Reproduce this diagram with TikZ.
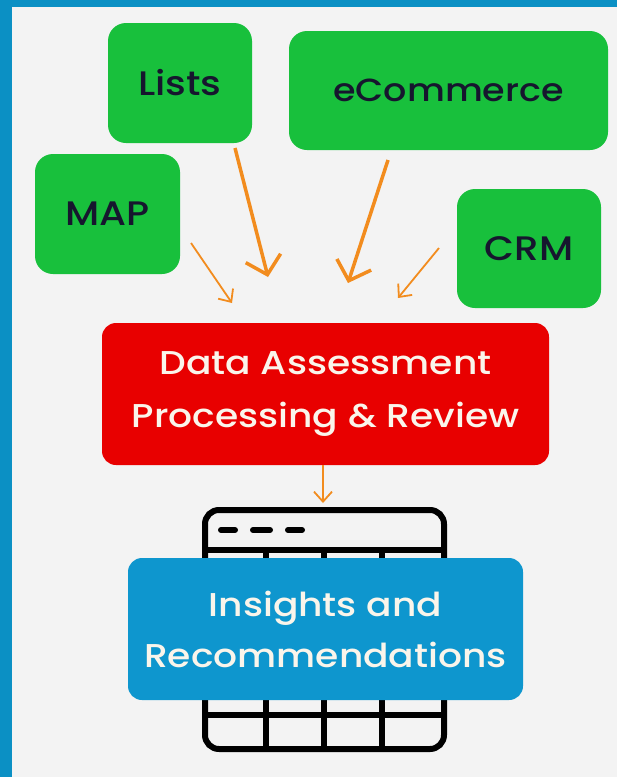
\documentclass[tikz,border=0pt]{standalone}
\usepackage{fontspec}
\newfontfamily\popm{Poppins Medium}[FakeStretch=1.14]
\usetikzlibrary{arrows.meta}
\definecolor{frameblue}{RGB}{11,144,196}
\definecolor{bggray}{RGB}{243,243,243}
\definecolor{boxgreen}{RGB}{24,192,60}
\definecolor{boxred}{RGB}{232,0,0}
\definecolor{boxblue}{RGB}{14,150,206}
\definecolor{navy}{RGB}{22,22,46}
\definecolor{cream}{RGB}{250,245,235}
\definecolor{arroworange}{RGB}{242,140,30}
\tikzset{
  srcbox/.style={fill=boxgreen, rounded corners=18pt, inner sep=0pt, text=navy,
    font=\popm\fontsize{34}{40}\selectfont},
  bigbox/.style={rounded corners=14pt, inner sep=0pt, text=cream, align=center},
  thickarrow/.style={draw=arroworange, line width=3.5pt,
    -{Straight Barb[length=17pt,width=36pt,line width=3.5pt]}},
  thinarrow/.style={draw=arroworange, line width=1.8pt,
    -{Straight Barb[length=10pt,width=18pt,line width=1.8pt]}},
  iconline/.style={draw=black, line width=6pt}
}
\begin{document}
\begin{tikzpicture}[x=1pt,y=-1pt]
\useasboundingbox (0,0) rectangle (617,777);
\fill[frameblue] (0,0) rectangle (617,777);
\fill[bggray] (12,7) rectangle (617,777);

% table icon
\draw[iconline, rounded corners=14pt] (205,510) rectangle (444,749);
\draw[iconline] (205,550) -- (444,550);
\draw[iconline] (205,715) -- (444,715);
\draw[iconline] (266,550) -- (266,749);
\draw[iconline] (324,550) -- (324,749);
\draw[iconline] (382,550) -- (382,749);
\draw[iconline, line cap=round] (221,530) -- (235,530);
\draw[iconline, line cap=round] (253,530) -- (270,530);
\draw[iconline, line cap=round] (288,530) -- (302,530);

% source boxes
\node[srcbox, minimum width=144pt, minimum height=120pt] (lists) at (180,83) {Lists};
\node[srcbox, minimum width=319pt, minimum height=119pt,
  font=\popm\fontsize{32}{40}\selectfont] (ecom) at (448.5,90.5) {eCommerce};
\node[srcbox, minimum width=145pt, minimum height=120pt] (map) at (107.5,214) {MAP};
\node[srcbox, minimum width=144pt, minimum height=119pt] (crm) at (529,248.5) {CRM};

% processing box
\node[bigbox, fill=boxred, minimum width=447pt, minimum height=142pt,
  font=\popm\fontsize{33}{53}\selectfont] (proc) at (325.5,394)
  {Data Assessment\\Processing \& Review};

% insights box
\node[bigbox, fill=boxblue, minimum width=395pt, minimum height=142pt,
  font=\popm\fontsize{33}{51}\selectfont] (ins) at (325.5,629)
  {Insights and\\Recommendations};

% arrows
\coordinate (mapS) at (191,243);  \coordinate (mapE) at (232,303);
\coordinate (lstS) at (235,148);  \coordinate (lstE) at (268,277);
\coordinate (ecoS) at (388,160);  \coordinate (ecoE) at (348,283);
\coordinate (crmS) at (439,248);  \coordinate (crmE) at (398,298);
\coordinate (procS) at (323,465); \coordinate (procE) at (323,503);
\draw[thinarrow] (mapS) -- (mapE);
\draw[thickarrow] (lstS) -- (lstE);
\draw[thickarrow] (ecoS) -- (ecoE);
\draw[thinarrow] (crmS) -- (crmE);
\draw[thinarrow] (procS) -- (procE);
\end{tikzpicture}
\end{document}
